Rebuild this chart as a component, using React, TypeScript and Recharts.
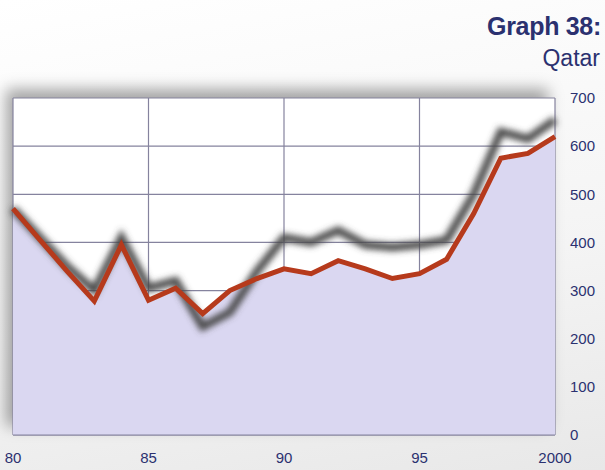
import { ComposedChart, Line, Area, XAxis, YAxis, CartesianGrid } from "recharts";

const years = [1980, 1981, 1982, 1983, 1984, 1985, 1986, 1987, 1988, 1989, 1990, 1991, 1992, 1993, 1994, 1995, 1996, 1997, 1998, 1999, 2000];
const grayValues = [470, 410, 350, 300, 410, 305, 320, 225, 255, 340, 410, 400, 425, 395, 390, 395, 405, 500, 630, 615, 655];
const redValues = [470, 405, 340, 278, 395, 280, 305, 252, 300, 325, 345, 335, 362, 345, 325, 335, 365, 460, 575, 585, 620];
const xTicks = [1980, 1985, 1990, 1995, 2000];
const yTicks = [0, 100, 200, 300, 400, 500, 600, 700];

const navy = "#2b3170";

export default function App() {
  const data = years.map((year, i) => ({ year, gray: grayValues[i], red: redValues[i] }));

  return (
    <div style={{ position: "absolute", left: 0, top: 0, width: 605, height: 470, background: "linear-gradient(170deg, #ffffff 0%, #f4f4f4 60%, #e8e8e8 100%)", overflow: "hidden", fontFamily: "Arial, 'Liberation Sans', sans-serif" }}>
      {/* frame shadow */}
      <div style={{ position: "absolute", left: 13, top: 98, width: 542, height: 337, boxShadow: "-7px -9px 14px rgba(0,0,0,0.35)" }} />
      <div style={{ position: "absolute", right: 4, top: 12, fontSize: 25, fontWeight: "bold", color: navy, letterSpacing: -0.3 }}>Graph 38:</div>
      <div style={{ position: "absolute", right: 5, top: 45, fontSize: 23, color: navy }}>Qatar</div>
      <div style={{ position: "absolute", left: 0, top: 0 }}>
        <ComposedChart width={605} height={470} data={data} margin={{ top: 98, left: 13, right: 0, bottom: 5 }}>
          <defs>
            <filter id="soft" x="-10%" y="-10%" width="120%" height="120%">
              <feGaussianBlur stdDeviation="3" />
            </filter>
          </defs>
          <CartesianGrid fill="#ffffff" stroke="#85839e" strokeWidth={1.2} />
          <XAxis
            dataKey="year"
            type="number"
            domain={[1980, 2000]}
            ticks={xTicks}
            height={30}
            tickLine={false}
            axisLine={{ stroke: "#85839e" }}
            tickSize={0}
            tickMargin={17}
            tickFormatter={(v: number) => (v === 2000 ? "2000" : String(v).slice(2))}
            tick={{ fill: navy, fontSize: 15 }}
          />
          <YAxis
            orientation="right"
            type="number"
            domain={[0, 700]}
            ticks={yTicks}
            width={50}
            tickLine={false}
            axisLine={false}
            tickSize={0}
            tickMargin={15}
            tick={{ fill: navy, fontSize: 15 }}
          />
          <Area type="linear" dataKey="red" stroke="none" fill="#dad7f1" fillOpacity={1} isAnimationActive={false} />
          <Line type="linear" dataKey="gray" stroke="#4a4a4a" strokeWidth={8} dot={false} filter="url(#soft)" isAnimationActive={false} />
          <Line type="linear" dataKey="red" stroke="#b63a1c" strokeWidth={5} dot={false} isAnimationActive={false} />
        </ComposedChart>
      </div>
    </div>
  );
}
